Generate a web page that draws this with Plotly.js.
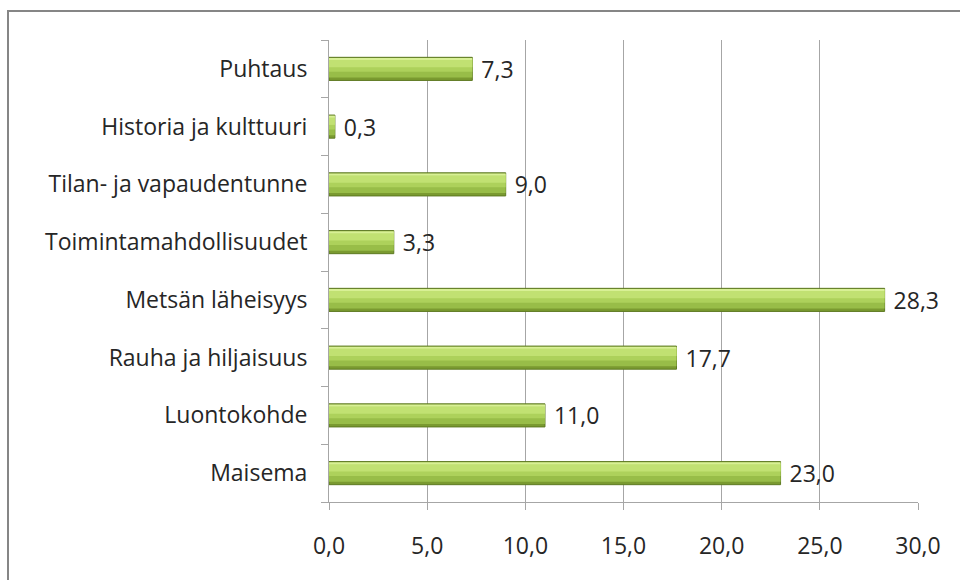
<!DOCTYPE html>
<html>
<head>
<meta charset="utf-8">
<script src="https://cdn.plot.ly/plotly-3.0.1.min.js"></script>
<style>
html,body{margin:0;padding:0;background:#fff;}
#chart{width:960px;height:580px;}
</style>
</head>
<body>
<div id="chart"></div>
<script>
var categories = ["Maisema", "Luontokohde", "Rauha ja hiljaisuus", "Metsän läheisyys",
  "Toimintamahdollisuudet", "Tilan- ja vapaudentunne", "Historia ja kulttuuri", "Puhtaus"];
var values = [23.0, 11.0, 17.7, 28.3, 3.3, 9.0, 0.3, 7.3];
var tickVals = [0, 5, 10, 15, 20, 25, 30];
var tickLabels = ["0,0", "5,0", "10,0", "15,0", "20,0", "25,0", "30,0"];

var labels = values.map(function(v){ return " " + v.toFixed(1).replace(".", ","); });
var font = "'Open Sans', 'Noto Sans', sans-serif";
var FS = 23;

function layer(off, w, color, line) {
  return {
    type: "bar", orientation: "h", x: values, y: categories,
    width: w, offset: off,
    marker: {color: color, line: line || {width: 0}},
    hoverinfo: "skip"
  };
}

var base = layer(-0.2, 0.4, "#7a9a30", {color: "#5e7a22", width: 1});
base.text = labels;
base.textposition = "outside";
base.constraintext = "none";
base.cliponaxis = false;
base.textfont = {family: font, size: FS, color: "#262626"};

var traces = [
  base,
  layer(-0.15, 0.33, "#98bd48"),
  layer(-0.05, 0.21, "#add15b"),
  layer(0.03, 0.13, "#c1e172"),
  layer(0.155, 0.035, "#d8f095")
];

var L = 329, R = 42, T = 40, B = 78, W = 960, H = 580;
var pw = W - L - R, ph = H - T - B;

var layout = {
  width: W, height: H,
  margin: {l: L, r: R, t: T, b: B},
  paper_bgcolor: "#fff", plot_bgcolor: "#fff",
  barmode: "overlay", showlegend: false,
  font: {family: font, size: FS, color: "#262626"},
  xaxis: {
    range: [0, 30], tickvals: tickVals, ticktext: tickLabels,
    showgrid: true, gridcolor: "#a6a6a6", gridwidth: 1,
    showline: true, linecolor: "#a6a6a6", linewidth: 1,
    ticks: "outside", ticklen: 7, tickcolor: "#a6a6a6",
    ticklabelstandoff: 16, zeroline: false,
    tickfont: {family: font, size: FS, color: "#262626"}
  },
  yaxis: {
    categoryorder: "array", categoryarray: categories,
    showline: true, linecolor: "#a6a6a6", linewidth: 1,
    ticks: "outside", ticklen: 7, tickcolor: "#a6a6a6", tickson: "boundaries",
    ticklabelstandoff: 16, showgrid: false,
    tickfont: {family: font, size: FS, color: "#262626"}
  },
  shapes: [{
    type: "rect", xref: "paper", yref: "paper", layer: "below",
    x0: (8 - L) / pw, x1: (W + 20 - L) / pw,
    y0: (T + ph - (H + 20)) / ph, y1: (T + ph - 11) / ph,
    line: {color: "#868686", width: 2}, fillcolor: "rgba(0,0,0,0)"
  }]
};

Plotly.newPlot("chart", traces, layout, {displayModeBar: false, staticPlot: true});
</script>
</body>
</html>
